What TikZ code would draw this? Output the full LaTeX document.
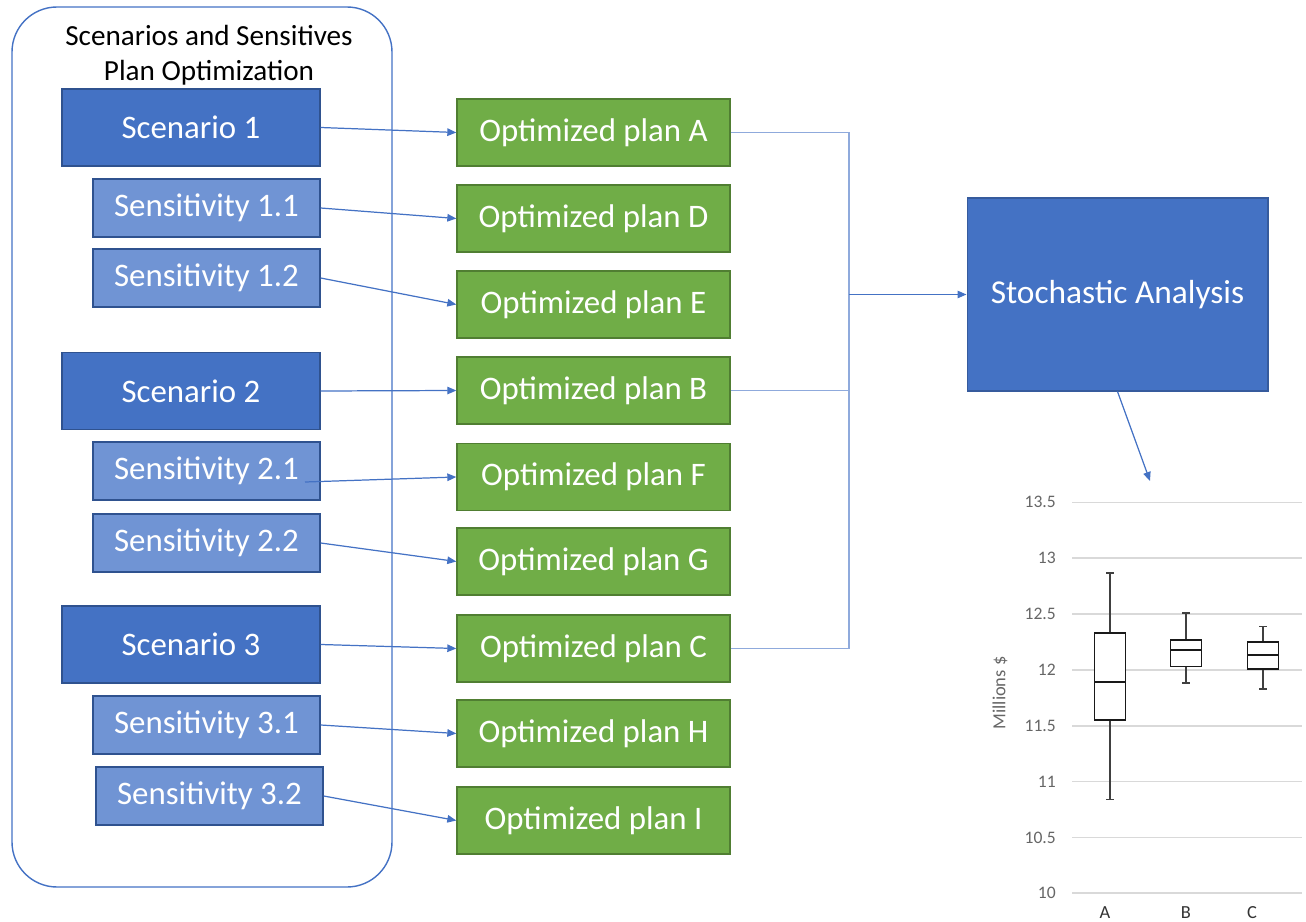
\documentclass[tikz,border=0pt]{standalone}
\usepackage{fontspec}
\setmainfont{Carlito}
\usepackage{tikz}
\usetikzlibrary{arrows.meta,calc}
\definecolor{primary}{HTML}{4472C4}
\definecolor{primarydark}{HTML}{2F528F}
\definecolor{secondary}{HTML}{7094D4}
\definecolor{plangreen}{HTML}{70AD47}
\definecolor{plandark}{HTML}{507E32}
\definecolor{buscolor}{HTML}{8FAADC}
\definecolor{gridgray}{HTML}{D9D9D9}
\definecolor{ticktext}{HTML}{666666}

\begin{document}
\begin{tikzpicture}[x=0.02cm, y=-0.02cm, >={Triangle[length=0.18cm,width=0.15cm]},
    boxfont/.style={font=\fontsize{18.7}{22}\selectfont},
    scen/.style={boxfont, draw=primarydark, fill=primary, text=white, line width=0.8pt, minimum width=5.16cm, minimum height=1.54cm, inner sep=0pt},
    sens/.style={boxfont, draw=primarydark, fill=secondary, text=white, line width=0.8pt, minimum width=4.54cm, minimum height=1.16cm, inner sep=0pt},
    plan/.style={boxfont, draw=plandark, fill=plangreen, text=white, line width=0.8pt, minimum width=5.46cm, minimum height=1.34cm, inner sep=0pt},
    link/.style={->, primary, line width=0.7pt},
    bus/.style={buscolor, line width=0.7pt},
    ticklabel/.style={anchor=east, ticktext, font=\fontsize{10}{12}\selectfont}]
    \useasboundingbox (0,0) rectangle (1306,922);

    % Scenarios and sensitivities
    \draw[primary, line width=0.8pt, rounded corners=0.9cm] (12,7) rectangle (392,887);
    \node[align=center, font=\fontsize{16.6}{19.9}\selectfont] (title) at (209,55) {Scenarios and Sensitives\\Plan Optimization};

    \node[scen] (sc1) at (191,127.5) {Scenario 1};
    \node[sens] (s11) at (206.5,208) {Sensitivity 1.1};
    \node[sens] (s12) at (206.5,278) {Sensitivity 1.2};
    \node[scen] (sc2) at (191,391) {Scenario 2};
    \node[sens] (s21) at (206.5,471) {Sensitivity 2.1};
    \node[sens] (s22) at (206.5,543) {Sensitivity 2.2};
    \node[scen] (sc3) at (191,644.5) {Scenario 3};
    \node[sens] (s31) at (206.5,725) {Sensitivity 3.1};
    \node[sens] (s32) at (209.5,796) {Sensitivity 3.2};

    % Optimized plans
    \node[plan] (pa) at (593.5,132.5) {Optimized plan A};
    \node[plan] (pd) at (593.5,218.5) {Optimized plan D};
    \node[plan] (pe) at (593.5,304.5) {Optimized plan E};
    \node[plan] (pb) at (593.5,390.5) {Optimized plan B};
    \node[plan] (pf) at (593.5,477) {Optimized plan F};
    \node[plan] (pg) at (593.5,561.5) {Optimized plan G};
    \node[plan] (pc) at (593.5,648.5) {Optimized plan C};
    \node[plan] (ph) at (593.5,733.5) {Optimized plan H};
    \node[plan] (pi) at (593.5,820.5) {Optimized plan I};

    \coordinate (s21x) at (305,482);
    \draw[link] (sc1.east) -- (pa.west);
    \draw[link] (s11.east) -- (pd.west);
    \draw[link] (s12.east) -- (pe.west);
    \draw[link] (sc2.east) -- (pb.west);
    \draw[link] (s21x) -- (pf.west);
    \draw[link] (s22.east) -- (pg.west);
    \draw[link] (sc3.east) -- (pc.west);
    \draw[link] (s31.east) -- (ph.west);
    \draw[link] (s32.east) -- (pi.west);

    % Stochastic analysis
    \node[font=\fontsize{19}{22}\selectfont, fill=primary, draw=primary!80!black, line width=0.6pt, text=white, minimum width=6.02cm, minimum height=3.86cm, inner sep=0pt] (stoch) at (1117.5,294.5) {Stochastic Analysis};
    \coordinate (bus) at (849,294.5);
    \draw[bus] (pa.east) -| (bus);
    \draw[bus] (pc.east) -| (bus);
    \draw[bus] (pb.east) -- (pb.east -| bus);
    \draw[link] (bus) -- (stoch.west);

    \coordinate (chart) at (1150,481);
    \draw[link] (stoch.south) -- (chart);

    % Box plot
    \begin{scope}[shift={(0,2010)}, y=2.234cm]
        \foreach \v in {10,10.5,11,11.5,12,12.5,13,13.5} {
            \draw[gridgray, line width=0.9pt] (1072,\v) -- (1302,\v);
            \node[ticklabel] at (1062,\v) {\v};
        }
        \foreach \x/\lo/\qa/\md/\qb/\hi in {1110/10.84/11.55/11.89/12.33/12.87, 1186/11.88/12.03/12.18/12.27/12.51, 1263/11.83/12.01/12.13/12.25/12.39} {
            \draw[black!75, line width=0.9pt] (\x,\lo) -- (\x,\qa) (\x,\qb) -- (\x,\hi)
                (\x-4,\lo) -- (\x+4,\lo) (\x-4,\hi) -- (\x+4,\hi);
            \draw[black!90, line width=1.1pt, fill=white] (\x-15.5,\qa) rectangle (\x+15.5,\qb);
            \draw[black!90, line width=1.1pt] (\x-15.5,\md) -- (\x+15.5,\md);
        }
    \end{scope}
    \node[rotate=90, ticktext, font=\fontsize{10.5}{12}\selectfont] (ylabel) at (1000,693) {Millions \$};
    \node[font=\fontsize{10.5}{12}\selectfont, black!80] (catA) at (1105,913) {A};
    \node[font=\fontsize{10.5}{12}\selectfont, black!80] (catB) at (1186,913) {B};
    \node[font=\fontsize{10.5}{12}\selectfont, black!80] (catC) at (1252,913) {C};
\end{tikzpicture}
\end{document}
